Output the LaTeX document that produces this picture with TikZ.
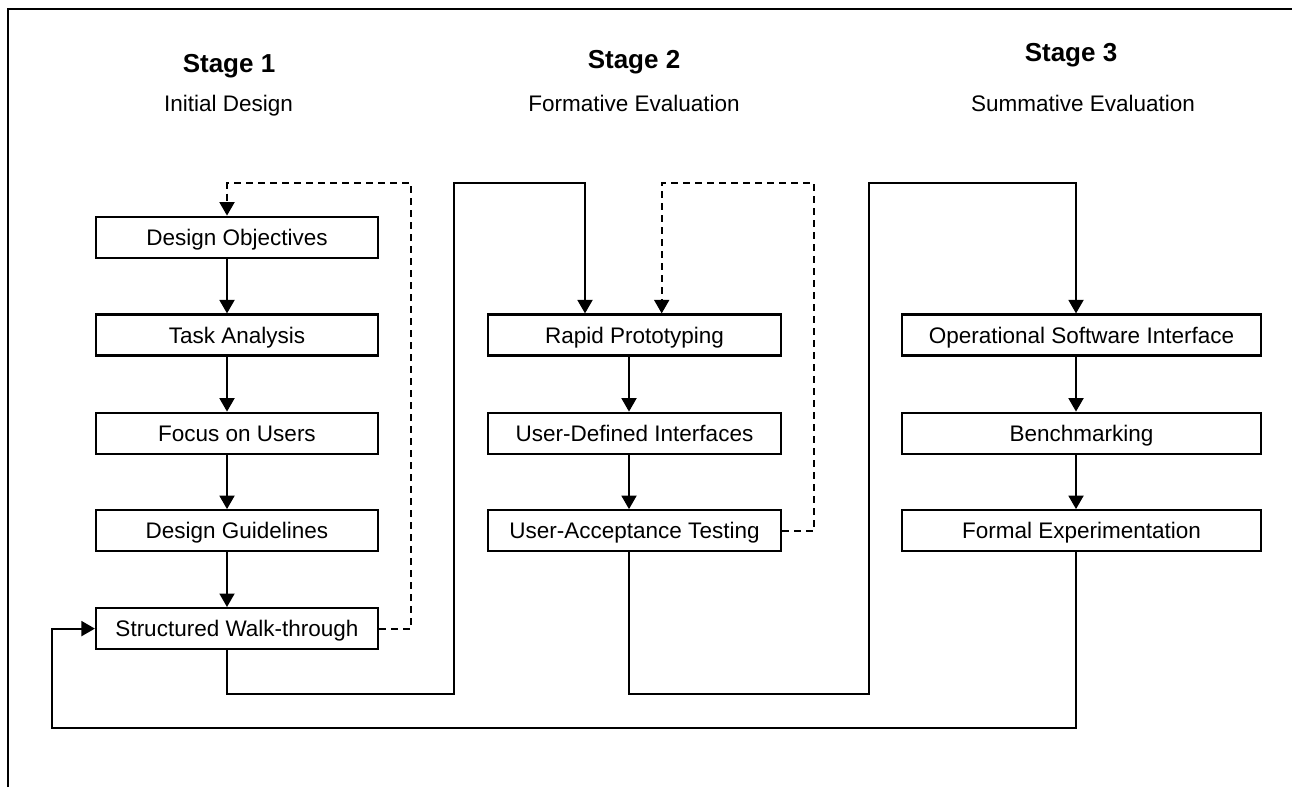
\documentclass[tikz,border=0pt]{standalone}
\usepackage{fontspec}
\setmainfont{Liberation Sans}
\usetikzlibrary{arrows.meta,calc}
\begin{document}
\begin{tikzpicture}[x=1pt,y=-1pt,
  box/.style={draw,line width=2.2pt,minimum height=41pt,inner sep=0pt,fill=white,
    text height=16.1pt,text depth=0pt,
    font=\fontsize{22.5}{27}\selectfont},
  box1/.style={box,minimum width=282pt},
  box2/.style={box,minimum width=293pt},
  box3/.style={box,minimum width=359pt},
  tip/.style={-{Triangle[width=15pt,length=13.5pt]}},
  arr/.style={line width=1.9pt,tip},
  fb/.style={line width=1.9pt,dash pattern=on 7pt off 5pt},
  title/.style={anchor=base,font=\fontsize{26}{30}\selectfont\bfseries},
  sub/.style={anchor=base,font=\fontsize{22.5}{27}\selectfont},
]
% canvas
\fill[white] (0,0) rectangle (1292,787);
\useasboundingbox (0,0) rectangle (1292,787);
\draw[line width=2pt] (8.3,787) -- (8.3,9.3) -- (1292,9.3);

% headings
\node[title] (s1) at (229,72) {Stage 1};
\node[sub]   (d1) at (228.5,111.7) {Initial Design};
\node[title] (s2) at (634,68.3) {Stage 2};
\node[sub]   (d2) at (634,111.7) {Formative Evaluation};
\node[title] (s3) at (1071,61.7) {Stage 3};
\node[sub]   (d3) at (1083,111.7) {Summative Evaluation};

% stage 1 boxes
\node[box1] (do) at (237,237.2) {Design Objectives};
\node[box1] (ta) at (237,335) {Task Analysis};
\node[box1] (fu) at (237,433.2) {Focus on Users};
\node[box1] (dg) at (237,530.7) {Design Guidelines};
\node[box1] (sw) at (237,628.6) {Structured Walk-through};

% stage 2 boxes
\node[box2] (rp)  at (634.5,335) {Rapid Prototyping};
\node[box2] (udi) at (634.5,433.2) {User-Defined Interfaces};
\node[box2] (uat) at (634.5,530.7) {User-Acceptance Testing};

% stage 3 boxes
\node[box3] (osi) at (1081.5,335) {Operational Software Interface};
\node[box3] (bm)  at (1081.5,433.2) {Benchmarking};
\node[box3] (fe)  at (1081.5,530.7) {Formal Experimentation};

% column lines and bend points
\coordinate (c1) at (227,0);
\coordinate (c2) at (629,0);
\coordinate (c3) at (1076,0);
\coordinate (q1) at (411,183);
\coordinate (p1) at (454.3,694);
\coordinate (p2) at (585,183);
\coordinate (q2) at (814,183);
\coordinate (q2e) at (661.7,183);
\coordinate (p3) at (869,694);
\coordinate (p4) at (1076,183);
\coordinate (p5) at (52,728);

% stage 1 arrows
\draw[arr] (do.south -| c1) -- (ta.north -| c1);
\draw[arr] (ta.south -| c1) -- (fu.north -| c1);
\draw[arr] (fu.south -| c1) -- (dg.north -| c1);
\draw[arr] (dg.south -| c1) -- (sw.north -| c1);

% stage 2 arrows
\draw[arr] (rp.south -| c2) -- (udi.north -| c2);
\draw[arr] (udi.south -| c2) -- (uat.north -| c2);

% stage 3 arrows
\draw[arr] (osi.south -| c3) -- (bm.north -| c3);
\draw[arr] (bm.south -| c3) -- (fe.north -| c3);

% dashed feedback loops
\draw[fb,tip] (sw.east) -| (q1) -| (do.north -| c1);
\draw[fb,tip] (uat.east) -| (q2) -| (rp.north -| q2e);

% stage-to-stage connectors
\draw[arr] (sw.south -| c1) |- (p1) |- (p2) -- (rp.north -| p2);
\draw[arr] (uat.south -| c2) |- (p3) |- (p4) -- (osi.north -| p4);
\draw[arr] (fe.south -| c3) |- (p5) |- (sw.west);
\end{tikzpicture}
\end{document}
